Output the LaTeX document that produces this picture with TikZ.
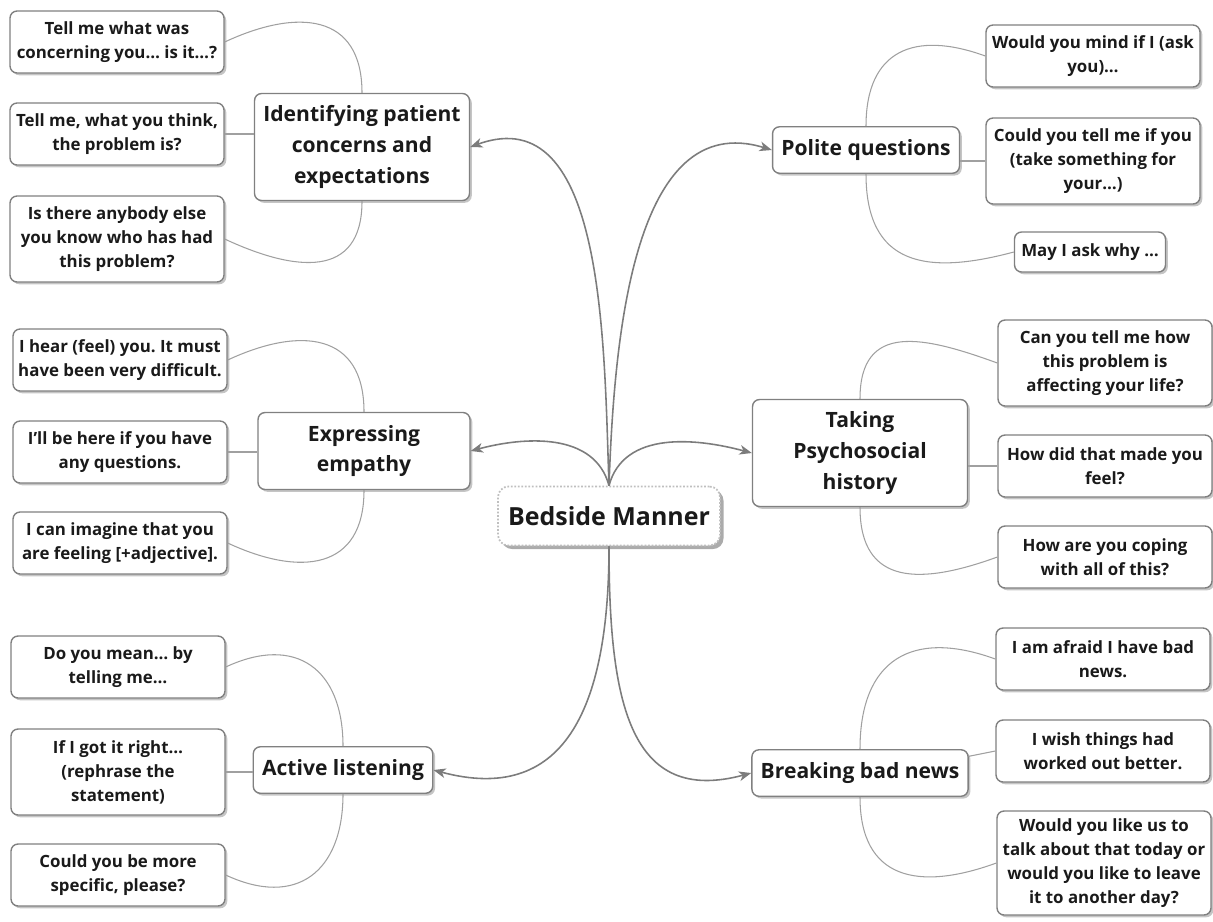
\documentclass[tikz,border=0pt]{standalone}
\usepackage{fontspec}
\setmainfont{Open Sans}
\usetikzlibrary{arrows.meta,shadows}
\definecolor{boxline}{HTML}{808080}
\definecolor{linkgray}{HTML}{7C7C7C}
\definecolor{leafgray}{HTML}{A0A0A0}
\definecolor{txt}{HTML}{1A1A1A}
\frenchspacing
\tikzset{
  box/.style={rectangle,rounded corners=4pt,draw=boxline,line width=0.8pt,fill=white,align=center,text=txt,font=\bfseries,inner sep=2pt,
    drop shadow={shadow xshift=1.3pt,shadow yshift=-1.3pt,opacity=0.5,fill=black!45}},
  leaf/.style={box,font=\fontsize{9.6}{13.6}\selectfont\bfseries,minimum width=4.28cm,minimum height=1.24cm},
  leafthree/.style={leaf,minimum height=1.72cm},
  leaffour/.style={leaf,minimum height=2.08cm},
  leafsmall/.style={leaf,minimum width=3.02cm,minimum height=0.8cm},
  topic/.style={box,font=\fontsize{12}{17.6}\selectfont\bfseries,minimum height=0.93cm,inner xsep=5pt},
  topictwo/.style={topic,minimum width=4.24cm,minimum height=1.54cm},
  topicthree/.style={topic,minimum width=4.3cm,minimum height=2.14cm},
  centre/.style={rectangle,rounded corners=6pt,draw=black!25,densely dotted,line width=1pt,fill=white,text=txt,
    font=\fontsize{14.2}{18}\selectfont\bfseries,minimum width=4.44cm,minimum height=1.18cm,
    drop shadow={shadow xshift=2pt,shadow yshift=-2pt,opacity=0.6,fill=black!55}},
  branch/.style={draw=linkgray,line width=0.9pt,-{Stealth[length=7pt,width=5.5pt,inset=2pt]}},
  twig/.style={draw=leafgray,line width=0.6pt}
}
\begin{document}
\begin{tikzpicture}[x=0.02cm,y=-0.02cm]
\useasboundingbox (0,0) rectangle (1213,921);
\node[centre] (0) at (609,516) {Bedside Manner};
\node[topicthree] (1) at (362,147) {Identifying patient\\concerns and\\expectations};
\node[topic] (2) at (866,150) {Polite questions};
\node[topictwo] (3) at (364,451) {Expressing\\empathy};
\node[topicthree] (4) at (860,453) {Taking\\Psychosocial\\history};
\node[topic] (5) at (343,770) {Active listening};
\node[topic] (6) at (860,773) {Breaking bad news};
\node[leaf] (11) at (117,42) {Tell me what was\\concerning you… is it…?};
\node[leaf] (12) at (117,134) {Tell me, what you think,\\the problem is?};
\node[leafthree] (13) at (117,239) {Is there anybody else\\you know who has had\\this problem?};
\node[leaf] (21) at (1093,56) {Would you mind if I (ask\\you)…};
\node[leafthree] (22) at (1093,161) {Could you tell me if you\\(take something for\\your…)};
\node[leafsmall] (23) at (1090,252) {May I ask why …};
\node[leaf] (31) at (120,360) {I hear (feel) you. It must\\have been very difficult.};
\node[leaf] (32) at (120,452) {I’ll be here if you have\\any questions.};
\node[leaf] (33) at (120,543) {I can imagine that you\\are feeling [+adjective].};
\node[leafthree] (41) at (1105,363) {Can you tell me how\\this problem is\\affecting your life?};
\node[leaf] (42) at (1105,466) {How did that made you\\feel?};
\node[leaf] (43) at (1105,557) {How are you coping\\with all of this?};
\node[leaf] (51) at (118,667) {Do you mean… by\\telling me…};
\node[leafthree] (52) at (118,772) {If I got it right…\\(rephrase the\\statement)};
\node[leaf] (53) at (118,875) {Could you be more\\specific, please?};
\node[leaf] (61) at (1103,659) {I am afraid I have bad\\news.};
\node[leaf] (62) at (1103,751) {I wish things had\\worked out better.};
\node[leaffour] (63) at (1104,863) {Would you like us to\\talk about that today or\\would you like to leave\\it to another day?};
\path (0.north) edge[branch,out=92,in=20] (1.east);
\path (0.north) edge[branch,out=88,in=163] (2.west);
\path (0.north) edge[branch,out=105,in=15] (3.east);
\path (0.north) edge[branch,out=75,in=165] (4.west);
\path (0.south) edge[branch,out=-90,in=-15,out looseness=1.5,in looseness=1.2] (5.east);
\path (0.south) edge[branch,out=-90,in=-165,out looseness=1.5,in looseness=1.2] (6.west);
\path[twig] (11.east) edge[out=25,in=90,looseness=1.4] (1.north);
\path[twig] (12.east) edge (12.east -| 1.west);
\path[twig] (13.east) edge[out=-25,in=-90,looseness=1.4] (1.south);
\path[twig] (21.west) edge[out=160,in=90,looseness=1.4] (2.north);
\path[twig] (22.west) edge (22.west -| 2.east);
\path[twig] (23.west) edge[out=-165,in=-90,looseness=1.4] (2.south);
\path[twig] (31.east) edge[out=25,in=90,looseness=1.4] (3.north);
\path[twig] (32.east) edge (32.east -| 3.west);
\path[twig] (33.east) edge[out=-25,in=-90,looseness=1.4] (3.south);
\path[twig] (41.west) edge[out=160,in=90,looseness=1.4] (4.north);
\path[twig] (42.west) edge (42.west -| 4.east);
\path[twig] (43.west) edge[out=-160,in=-90,looseness=1.4] (4.south);
\path[twig] (51.east) edge[out=25,in=90,looseness=1.4] (5.north);
\path[twig] (52.east) edge (52.east -| 5.west);
\path[twig] (53.east) edge[out=-25,in=-90,looseness=1.4] (5.south);
\path[twig] (61.west) edge[out=160,in=90,looseness=1.4] (6.north);
\path[twig] (62.west) edge ([yshift=9.5pt]6.east);
\path[twig] (63.west) edge[out=-160,in=-90,looseness=1.4] (6.south);
\end{tikzpicture}
\end{document}
